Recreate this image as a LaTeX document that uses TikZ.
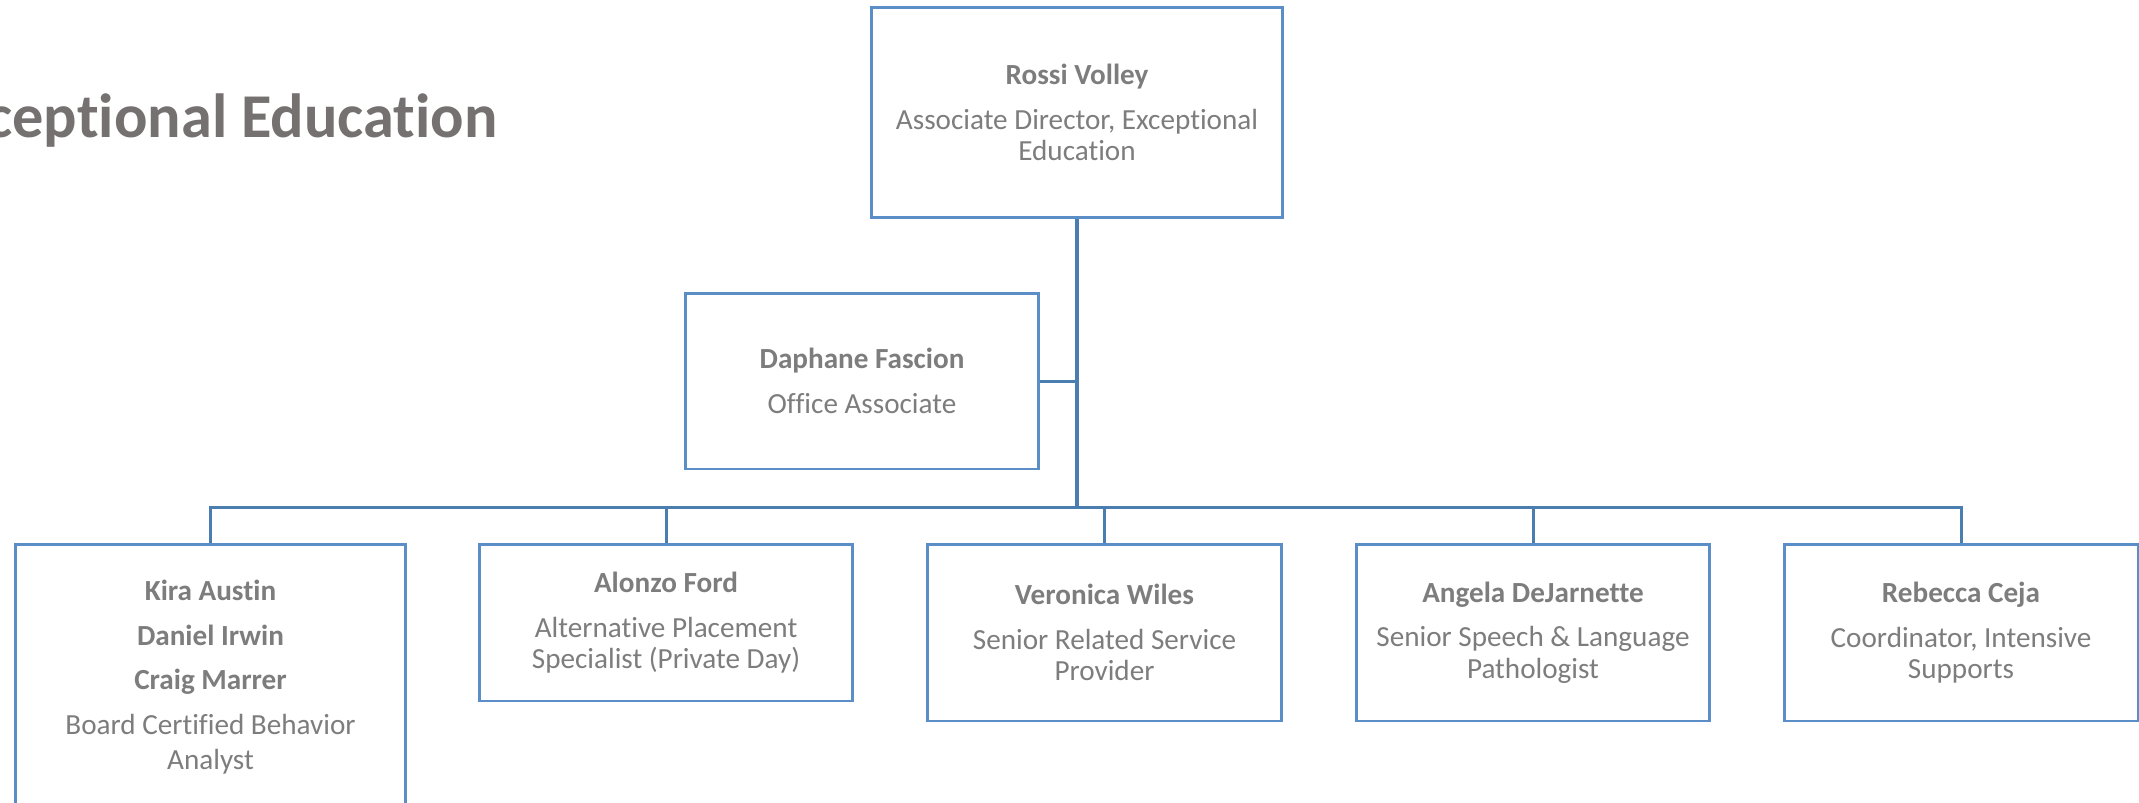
\documentclass[tikz,border=0pt]{standalone}
\usepackage{fontspec}
\setmainfont[Ligatures=NoCommon]{Carlito}
\usepackage{tikz}
\usetikzlibrary{calc}

\definecolor{boxblue}{RGB}{91,142,198}
\definecolor{lineblue}{RGB}{74,126,177}
\definecolor{textgray}{RGB}{125,125,125}
\definecolor{titlegray}{RGB}{118,113,113}

\tikzset{
    person/.style={draw=boxblue, line width=1.7pt, fill=white, inner sep=0pt,
        align=center, text=textgray, font=\fontsize{16.6}{17.8}\selectfont},
    link/.style={draw=lineblue, line width=1.7pt},
    trunk/.style={draw=lineblue, line width=2.4pt}
}

\begin{document}
\begin{tikzpicture}[x=0.02cm, y=-0.02cm]

    %Frame
    \useasboundingbox (0,0) rectangle (2139,802);
    \clip (0,0) rectangle (2139,802);

    %Title
    \node[anchor=base east, inner sep=0pt, text=titlegray,
        font=\fontsize{35.5}{40}\selectfont\bfseries] (title) at (498,137)
        {Exceptional Education}; %Cut at the left edge

    %Director
    \node[person, minimum width=8.24cm, minimum height=4.22cm] (director) at (1077,112.5)
        {\textbf{Rossi Volley}\\[7.6pt] Associate Director, Exceptional\\ Education};

    %Office
    \node[person, minimum width=7.08cm, minimum height=3.52cm] (office) at (862,381)
        {\textbf{Daphane Fascion}\\[7.6pt] Office Associate};

    %Staff row
    \node[person, minimum width=7.82cm, minimum height=5.32cm] (bcba) at (210.5,677)
        {\textbf{Kira Austin}\\[7.6pt] \textbf{Daniel Irwin}\\[7.6pt] \textbf{Craig Marrer}\\[7.6pt]
        Board Certified Behavior\\[2pt] Analyst};
    \node[person, minimum width=7.48cm, minimum height=3.14cm] (placement) at (666,622.5)
        {\textbf{Alonzo Ford}\\[7.6pt] Alternative Placement\\ Specialist (Private Day)};
    \node[person, minimum width=7.10cm, minimum height=3.54cm] (service) at (1104.5,632.5)
        {\textbf{Veronica Wiles}\\[7.6pt] Senior Related Service\\ Provider};
    \node[person, minimum width=7.08cm, minimum height=3.54cm] (speech) at (1533,632.5)
        {\textbf{Angela DeJarnette}\\[7.6pt] Senior Speech \& Language\\ Pathologist};
    \node[person, minimum width=7.08cm, minimum height=3.54cm] (supports) at (1961,632.5)
        {\textbf{Rebecca Ceja}\\[7.6pt] Coordinator, Intensive\\ Supports};

    %Connectors
    \coordinate (hub) at (1077,507);
    \draw[link] (office.east) -- (office.east -| director.south); %Office branch
    \foreach \staff in {bcba,placement,service,speech,supports}
        \draw[link] (hub) -| (\staff.north);
    \draw[trunk] (director.south) -- (hub); %Main line

\end{tikzpicture}
\end{document}
